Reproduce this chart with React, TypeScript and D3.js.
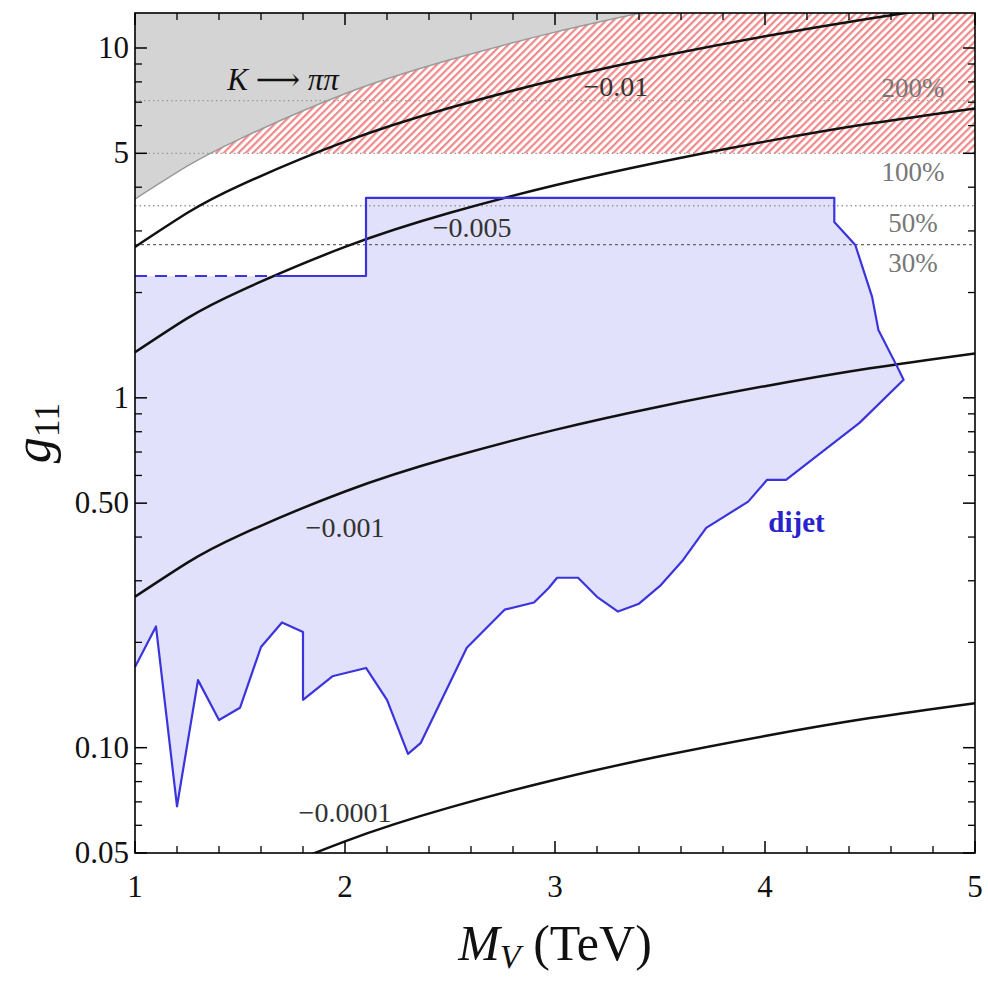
import React from "react";
import * as d3 from "d3";

// fonts: Mathematica-like Times look
const serif = "'Liberation Serif', 'Times New Roman', 'DejaVu Serif', serif";

// contour curves g11(M_V)
const contourMass = [1, 1.25, 1.5, 2, 2.5, 3, 3.5, 4, 4.5, 5];
const contour01 = [2.7, 3.38, 4.05, 5.4, 6.75, 8.1, 9.45, 10.8, 12.15, 13.5];
const contour005 = [1.35, 1.69, 2.02, 2.7, 3.38, 4.05, 4.72, 5.4, 6.08, 6.72];
const contour001 = [0.27, 0.338, 0.405, 0.54, 0.675, 0.81, 0.945, 1.08, 1.215, 1.34];
const contour0001 = [0.027, 0.0338, 0.0405, 0.054, 0.0675, 0.081, 0.0945, 0.108, 0.1215, 0.134];
const contourLabels = ["\u22120.01", "\u22120.005", "\u22120.001", "\u22120.0001"];

// K -> pi pi excluded boundary
const kaonMass = [1, 1.25, 1.5, 2, 2.5, 3, 3.5];
const kaonG = [3.7, 4.6, 5.5, 7.4, 9.25, 11.1, 12.95];

// percent lines
const percentLabels = ["200%", "100%", "50%", "30%"];
const percentG = [7.07, 5.0, 3.54, 2.74];

// dijet exclusion outline (lower edge, right edge, top, step)
const dijetMass = [
  1.0, 1.1, 1.2, 1.3, 1.4, 1.5, 1.6, 1.7, 1.8, 1.8, 1.94, 2.1, 2.2, 2.3, 2.36,
  2.58, 2.76, 2.9, 2.97, 3.01, 3.11, 3.2, 3.3, 3.4, 3.5, 3.61, 3.72, 3.92, 4.01,
  4.1, 4.45, 4.66, 4.63, 4.54, 4.51, 4.43, 4.33, 4.33, 2.1, 2.1, 1.7
];
const dijetG = [
  0.17, 0.222, 0.068, 0.156, 0.12, 0.13, 0.194, 0.228, 0.214, 0.137, 0.16, 0.169,
  0.137, 0.096, 0.103, 0.193, 0.248, 0.26, 0.286, 0.306, 0.306, 0.27, 0.245,
  0.258, 0.29, 0.344, 0.425, 0.505, 0.583, 0.583, 0.848, 1.126, 1.226, 1.564,
  1.944, 2.735, 3.18, 3.73, 3.73, 2.23, 2.23
];
const dijetDashMass = [1.0, 1.7];
const dijetDashG = [2.23, 2.23];

// axes
const xMajor = [1, 2, 3, 4, 5];
const xMinor = [1.2, 1.4, 1.6, 1.8, 2.2, 2.4, 2.6, 2.8, 3.2, 3.4, 3.6, 3.8, 4.2, 4.4, 4.6, 4.8];
const yMajor = [0.05, 0.1, 0.5, 1, 5, 10];
const yMajorLabels = ["0.05", "0.10", "0.50", "1", "5", "10"];
const yMinor = [0.06, 0.07, 0.08, 0.09, 0.2, 0.3, 0.4, 0.6, 0.7, 0.8, 0.9, 2, 3, 4, 6, 7, 8, 9];

export default function App() {
  const width = 988;
  const height = 983;
  const left = 135, right = 975, top = 13, bottom = 853;

  const x = d3.scaleLinear().domain([1, 5]).range([left, right]);
  const y = d3.scaleLog().domain([0.05, 12.59]).range([bottom, top]);

  const curve = d3
    .line<[number, number]>()
    .x(d => x(d[0]))
    .y(d => y(d[1]))
    .curve(d3.curveNatural);
  const poly = d3
    .line<[number, number]>()
    .x(d => x(d[0]))
    .y(d => y(d[1]));

  const contours = [contour01, contour005, contour001, contour0001].map(vals =>
    contourMass.map((m, i) => [m, vals[i]] as [number, number])
  );
  const kaonPts = kaonMass.map((m, i) => [m, kaonG[i]] as [number, number]);
  const kaonArea = d3
    .area<[number, number]>()
    .x(d => x(d[0]))
    .y0(0)
    .y1(d => y(d[1]))
    .curve(d3.curveNatural);

  const dijetPts = dijetMass.map((m, i) => [m, dijetG[i]] as [number, number]);
  const dashPts = dijetDashMass.map((m, i) => [m, dijetDashG[i]] as [number, number]);
  const dijetFill = poly([...dijetPts, ...dashPts.slice().reverse()]) + "Z";

  // annotation anchors (M, g)
  const contourLabelPos: [number, number][] = [[3.29, 7.3], [2.605, 2.88], [2.0, 0.4], [2.0, 0.0615]];
  const pctX = x(4.705);
  const pctBase = [7.24, 4.17, 2.98, 2.29];

  const tickMajor = 12;
  const tickMinor = 7;

  return (
    <svg
      width={width}
      height={height}
      style={{ position: "absolute", left: 0, top: 0, background: "#fff" }}
      fontFamily={serif}
    >
      <defs>
        <clipPath id="plot">
          <rect x={left} y={top} width={right - left} height={bottom - top} />
        </clipPath>
        <pattern id="hatch" patternUnits="userSpaceOnUse" width={5.2} height={5.2} patternTransform="rotate(45)">
          <rect width={5.2} height={5.2} fill="#fff" />
          <rect x={0} y={0} width={2.2} height={5.2} fill="#f08a8a" />
        </pattern>
      </defs>

      <g clipPath="url(#plot)">
        {/* hatched region above 100% */}
        <rect x={left} y={top} width={right - left} height={y(5) - top} fill="url(#hatch)" />
        {/* K -> pi pi */}
        <path d={kaonArea(kaonPts) || ""} fill="#d4d4d4" />
        <path d={curve(kaonPts) || ""} fill="none" stroke="#9a9a9a" strokeWidth={1.5} />

        {/* dijet */}
        <path d={dijetFill} fill="#e1e1fb" />

        {/* percent lines */}
        {percentG.map((g, i) => (
          <line
            key={i}
            x1={left}
            x2={right}
            y1={y(g)}
            y2={y(g)}
            stroke={i === 3 ? "#666" : "#9a9a9a"}
            strokeWidth={1.3}
            strokeDasharray={i === 3 ? "3,3" : "1.5,3"}
          />
        ))}

        {/* contours */}
        {contours.map((c, i) => (
          <path key={i} d={curve(c) || ""} fill="none" stroke="#111" strokeWidth={2.5} />
        ))}

        {/* dijet outline */}
        <path d={poly(dijetPts) || ""} fill="none" stroke="#3b34dc" strokeWidth={2.2} strokeLinejoin="round" />
        <path d={poly(dashPts) || ""} fill="none" stroke="#3b34dc" strokeWidth={2.2} strokeDasharray="12,8" />
      </g>

      {/* annotations */}
      {contourLabels.map((t, i) => (
        <text
          key={t}
          x={x(contourLabelPos[i][0])}
          y={y(contourLabelPos[i][1])}
          textAnchor="middle"
          fontSize={28}
          fill="#333"
        >
          {t}
        </text>
      ))}
      {percentLabels.map((t, i) => (
        <text key={t} x={pctX} y={y(pctBase[i])} textAnchor="middle" fontSize={27} fill="#777">
          {t}
        </text>
      ))}
      <text x={x(1.705)} y={y(7.59)} textAnchor="middle" fontSize={31} fill="#111">
        <tspan fontStyle="italic">K</tspan>
        <tspan> {"\u27f6"} </tspan>
        <tspan fontStyle="italic">{"\u03c0\u03c0"}</tspan>
      </text>
      <text x={x(4.15)} y={y(0.414)} textAnchor="middle" fontSize={29} fontWeight="bold" fill="#2a22cc">
        dijet
      </text>

      {/* frame */}
      <rect x={left} y={top} width={right - left} height={bottom - top} fill="none" stroke="#000" strokeWidth={1.6} />

      {/* x ticks */}
      {xMajor.map(v => (
        <g key={"xM" + v} stroke="#000" strokeWidth={1.5}>
          <line x1={x(v)} x2={x(v)} y1={bottom} y2={bottom - tickMajor} />
          <line x1={x(v)} x2={x(v)} y1={top} y2={top + tickMajor} />
        </g>
      ))}
      {xMinor.map(v => (
        <g key={"xm" + v} stroke="#000" strokeWidth={1.3}>
          <line x1={x(v)} x2={x(v)} y1={bottom} y2={bottom - tickMinor} />
          <line x1={x(v)} x2={x(v)} y1={top} y2={top + tickMinor} />
        </g>
      ))}
      {xMajor.map(v => (
        <text key={"xl" + v} x={x(v)} y={897} textAnchor="middle" fontSize={31} fill="#111">
          {v}
        </text>
      ))}

      {/* y ticks */}
      {yMajor.map(v => (
        <g key={"yM" + v} stroke="#000" strokeWidth={1.5}>
          <line x1={left} x2={left + tickMajor} y1={y(v)} y2={y(v)} />
          <line x1={right} x2={right - tickMajor} y1={y(v)} y2={y(v)} />
        </g>
      ))}
      {yMinor.map(v => (
        <g key={"ym" + v} stroke="#000" strokeWidth={1.3}>
          <line x1={left} x2={left + tickMinor} y1={y(v)} y2={y(v)} />
          <line x1={right} x2={right - tickMinor} y1={y(v)} y2={y(v)} />
        </g>
      ))}
      {yMajor.map((v, i) => (
        <text key={"yl" + v} x={left - 6} y={y(v) + 10} textAnchor="end" fontSize={31} fill="#111">
          {yMajorLabels[i]}
        </text>
      ))}

      {/* axis titles */}
      <text x={(left + right) / 2} y={960} textAnchor="middle" fontSize={50} fill="#111">
        <tspan fontStyle="italic">M</tspan>
        <tspan fontStyle="italic" fontSize={34} dy={8}>V</tspan>
        <tspan dy={-8}> (TeV)</tspan>
      </text>
      <text
        transform={`translate(50,${(top + bottom) / 2}) rotate(-90)`}
        textAnchor="middle"
        fontSize={52}
        fill="#111"
      >
        <tspan fontStyle="italic">g</tspan>
        <tspan fontSize={36} dy={9}>11</tspan>
      </text>
    </svg>
  );
}
